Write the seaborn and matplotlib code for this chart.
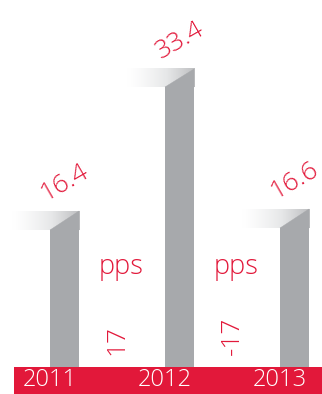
import numpy as np
import pandas as pd
import matplotlib
matplotlib.use("Agg")
import matplotlib.pyplot as plt
from matplotlib.colors import LinearSegmentedColormap
from matplotlib.patches import Polygon, Rectangle
import seaborn as sns

years = ["2011", "2012", "2013"]
values = [16.4, 33.4, 16.6]
change_labels = ["17", "-17"]
unit_label = "pps"

RED = "#E2183A"
GRAY = "#A7A9AC"

sns.set_style("white")
plt.rcParams["font.family"] = ["Open Sans", "DejaVu Sans"]
FW = "light"

fig = plt.figure(figsize=(3.22, 3.94), dpi=100)
ax = fig.add_axes([0, 0, 1, 1])

df = pd.DataFrame({"year": years, "value": values})
sns.barplot(data=df, x="year", y="value", order=years, color=GRAY,
            saturation=1, width=0.26, ax=ax, zorder=2,
            edgecolor="none", linewidth=0)

ax.axis("off")

cap = 2.2
cmap = LinearSegmentedColormap.from_list("fade", ["#FFFFFF", "#E6E7E8", "#BDBEC0"])
grad = np.linspace(0, 1, 256).reshape(1, -1) ** 1.3

for p, val in zip(ax.patches, values):
    x0 = p.get_x()
    w = p.get_width()
    x1 = x0 + w
    h = p.get_height()
    ax.imshow(grad, cmap=cmap, extent=[x0 - 1.25 * w, x1, h, h + cap],
              aspect="auto", zorder=1, interpolation="bilinear")
    ax.add_patch(Polygon([(x0, h), (x1, h), (x1, h + cap)], closed=True,
                         facecolor=GRAY, edgecolor=GRAY, linewidth=0.3,
                         zorder=2))
    ax.text(x0 + w / 2, h + 5.6, f"{val:.1f}", color=RED, fontsize=19,
            fontweight=FW, rotation=30, ha="center", va="center",
            rotation_mode="anchor")

ax.set_xlim(-0.561, 2.239)
ax.set_ylim(-3.22, 43.78)

# red baseline band
ax.add_patch(Rectangle((14 / 322, 0), 1, 27 / 394, transform=ax.transAxes,
                       facecolor=RED, edgecolor="none", zorder=3))
for i, yr in enumerate(years):
    ax.text(i - 0.13, -1.5, yr, color="white", fontsize=17, fontweight=FW,
            ha="center", va="center", zorder=4)

for i, lab in enumerate(change_labels):
    xm = i + 0.5
    ax.text(xm - 0.01, 11.9, unit_label, color=RED, fontsize=19.5,
            fontweight=FW, ha="center", va="center")
    ax.text(xm - 0.04, 1.4, lab, color=RED, fontsize=19, fontweight=FW,
            rotation=90, ha="left", va="center", rotation_mode="anchor")

fig.savefig("out.png", dpi=100)
